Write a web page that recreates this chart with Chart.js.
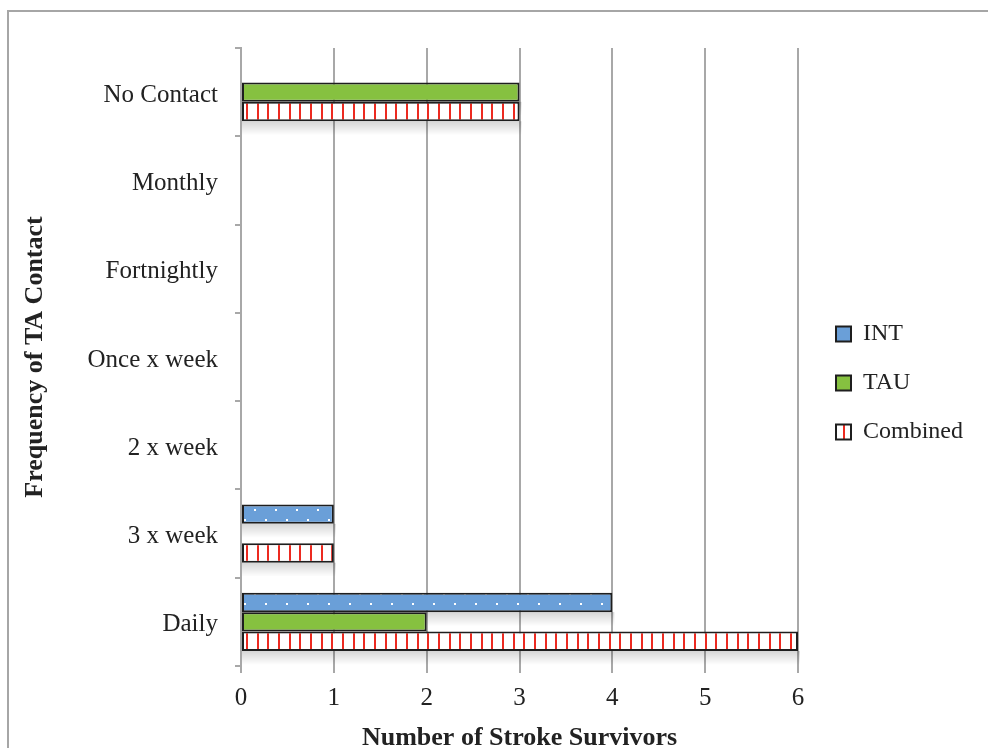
<!DOCTYPE html>
<html>
<head>
<meta charset="utf-8">
<script src="https://cdn.jsdelivr.net/npm/chart.js@4.4.0/dist/chart.umd.min.js"></script>
<style>
  html, body { margin: 0; padding: 0; background: #fff; overflow: hidden; }
  #frame { position: absolute; left: 7px; top: 10px; width: 1000px; height: 800px;
           border-left: 2px solid #a6a6a6; border-top: 2px solid #a6a6a6; }
  #wrap { position: absolute; left: 0; top: 0; width: 988px; height: 748px; }
</style>
</head>
<body>
<div id="frame"></div>
<div id="wrap"><canvas id="myChart"></canvas></div>
<script>
// frequency of TA contact, top to bottom
const categories = ['No Contact', 'Monthly', 'Fortnightly', 'Once x week', '2 x week', '3 x week', 'Daily'];
const seriesNames = ['INT', 'TAU', 'Combined'];
const intValues = [0, 0, 0, 0, 0, 1, 4];
const tauValues = [3, 0, 0, 0, 0, 0, 2];
const combinedValues = [3, 0, 0, 0, 0, 1, 6];
const xMin = 0, xMax = 6, xStep = 1;

// fill patterns
function dotPattern() {
  const c = document.createElement('canvas');
  c.width = 21; c.height = 21;
  const g = c.getContext('2d');
  g.fillStyle = '#6a9fd8';
  g.fillRect(0, 0, 21, 21);
  g.fillStyle = '#ffffff';
  g.fillRect(2, 5, 2, 2);
  g.fillRect(13, 15, 2, 2);
  return g.createPattern(c, 'repeat');
}

function stripePattern() {
  const c = document.createElement('canvas');
  c.width = 32; c.height = 8;
  const g = c.getContext('2d');
  g.fillStyle = '#ffffff';
  g.fillRect(0, 0, 32, 8);
  g.fillStyle = '#ec2a20';
  g.fillRect(1, 0, 2, 8);
  g.fillRect(11, 0, 2, 8);
  g.fillRect(22, 0, 2, 8);
  return g.createPattern(c, 'repeat');
}

Chart.defaults.font.family = "'Liberation Serif', 'DejaVu Serif', serif";
Chart.defaults.color = '#222';

// soft shadow under each bar
const barShadow = {
  id: 'barShadow',
  beforeDatasetsDraw(chart) {
    const ctx = chart.ctx;
    chart.data.datasets.forEach((ds, i) => {
      chart.getDatasetMeta(i).data.forEach(bar => {
        const p = bar.getProps(['x', 'y', 'base', 'height'], true);
        if (p.x - p.base < 1) return;
        const top = p.y + p.height / 2;
        const grad = ctx.createLinearGradient(0, top, 0, top + 14);
        grad.addColorStop(0, 'rgba(0,0,0,0.16)');
        grad.addColorStop(1, 'rgba(0,0,0,0)');
        ctx.fillStyle = grad;
        ctx.fillRect(p.base, top, p.x - p.base + 2, 14);
      });
    });
  }
};

// move legend a bit away from plot
const legendNudge = {
  id: 'legendNudge',
  afterLayout(chart) {
    const lg = chart.legend;
    lg.left += 13; lg.right += 13;
    lg.top -= 15; lg.bottom -= 15;
  }
};

const config = {
  type: 'bar',
  data: {
    labels: categories,
    datasets: [
      { label: seriesNames[0], data: intValues, backgroundColor: dotPattern() },
      { label: seriesNames[1], data: tauValues, backgroundColor: '#86c140' },
      { label: seriesNames[2], data: combinedValues, backgroundColor: stripePattern() }
    ]
  },
  options: {
    indexAxis: 'y',
    responsive: true,
    maintainAspectRatio: false,
    animation: false,
    events: [],
    datasets: {
      bar: {
        borderColor: '#1e1e1e',
        borderWidth: 2,
        borderSkipped: false,
        barPercentage: 1,
        categoryPercentage: 0.66
      }
    },
    layout: { padding: { left: 19, top: 48, right: 28, bottom: 0 } },
    plugins: {
      legend: {
        position: 'right',
        labels: {
          boxWidth: 15,
          boxHeight: 15,
          padding: 25,
          font: { size: 24 },
          color: '#222'
        }
      },
      tooltip: { enabled: false }
    },
    scales: {
      x: {
        min: xMin,
        max: xMax,
        ticks: { stepSize: xStep, padding: 10, font: { size: 25 } },
        grid: { color: '#a8a8a8', lineWidth: 2, tickLength: 7, drawOnChartArea: true },
        border: { display: false },
        title: {
          display: true,
          text: 'Number of Stroke Survivors',
          font: { size: 26, weight: 'bold', lineHeight: 1 },
          padding: { top: 0, bottom: -3 }
        },
        afterFit(scale) { scale.height = 82; }
      },
      y: {
        ticks: { padding: 17, labelOffset: 3, font: { size: 25 } },
        grid: { drawOnChartArea: false, color: '#a8a8a8', lineWidth: 2, tickLength: 6 },
        border: { display: true, color: '#a8a8a8', width: 2 },
        title: {
          display: true,
          text: 'Frequency of TA Contact',
          font: { size: 26, weight: 'bold', lineHeight: 1 },
          padding: { top: 3, bottom: 0 }
        },
        afterFit(scale) { scale.width = 222; }
      }
    }
  },
  plugins: [barShadow, legendNudge]
};

const myChart = new Chart(document.getElementById('myChart'), config);
</script>
</body>
</html>
